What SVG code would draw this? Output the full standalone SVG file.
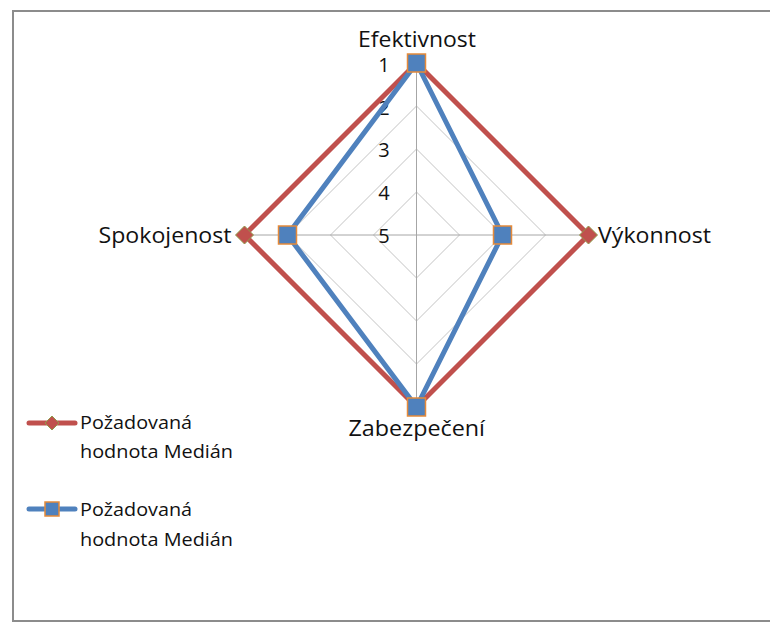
<svg xmlns="http://www.w3.org/2000/svg" width="770" height="622" viewBox="0 0 770 622">
  <style>
    .lbl { font-family: "Open Sans", "Liberation Sans", sans-serif; fill: #111111; }
    .axis-lbl { font-size: 22px; }
    .tick { font-size: 20px; text-anchor: middle; }
    .leg { font-size: 18.5px; }
    .ring { fill: none; stroke: #c4c4c4; stroke-width: 1; }
    .spoke { stroke: #a6a6a6; stroke-width: 1; }
    .red-line { fill: none; stroke: #c0504d; stroke-width: 5; stroke-linejoin: miter; }
    .blue-line { fill: none; stroke: #4f81bd; stroke-width: 5; stroke-linejoin: miter; }
    .diamond { fill: #c0504d; stroke: #8f9a4a; stroke-width: 1; }
    .square { fill: #4f81bd; stroke: #e58a3a; stroke-width: 1.5; }
  </style>
  <defs>
    <polygon id="dia" points="0,-9 9,0 0,9 -9,0"/>
    <rect id="sq" x="-9" y="-9" width="18" height="18"/>
  </defs>

  <!-- chart frame -->
  <rect x="13" y="11" width="770" height="610" fill="#ffffff" stroke="#8c8c8c" stroke-width="2"/>

  <!-- radar grid: centre (416.5,235), 43 px per step -->
  <g id="grid">
    <polygon class="ring" points="416.5,192 459.5,235 416.5,278 373.5,235"/>
    <polygon class="ring" points="416.5,149 502.5,235 416.5,321 330.5,235"/>
    <polygon class="ring" points="416.5,106 545.5,235 416.5,364 287.5,235"/>
    <polygon class="ring" points="416.5,63 588.5,235 416.5,407 244.5,235"/>
    <line class="spoke" x1="416.5" y1="63" x2="416.5" y2="407"/>
    <line class="spoke" x1="244.5" y1="235" x2="588.5" y2="235"/>
  </g>

  <!-- value scale (reversed: 1 outside, 5 at centre) -->
  <g id="scale" class="lbl tick">
    <text x="384" y="72">1</text>
    <text x="384" y="114.5">2</text>
    <text x="384" y="157">3</text>
    <text x="384" y="200">4</text>
    <text x="384" y="242.5">5</text>
  </g>

  <!-- axis captions -->
  <g id="axis-efektivnost"><text class="lbl axis-lbl" x="358" y="47" textLength="118" lengthAdjust="spacingAndGlyphs">Efektivnost</text></g>
  <g id="axis-vykonnost"><text class="lbl axis-lbl" x="598" y="243" textLength="113" lengthAdjust="spacingAndGlyphs">Výkonnost</text></g>
  <g id="axis-zabezpeceni"><text class="lbl axis-lbl" x="348.5" y="436" textLength="136.5" lengthAdjust="spacingAndGlyphs">Zabezpečení</text></g>
  <g id="axis-spokojenost"><text class="lbl axis-lbl" x="98.5" y="242.5" textLength="133" lengthAdjust="spacingAndGlyphs">Spokojenost</text></g>

  <!-- data series -->
  <g id="connectors">
    <polygon id="series-red" class="red-line" points="416.5,63 588.5,235 416.5,407 244.5,235"/>
    <polygon id="series-blue" class="blue-line" points="416.5,63 502.5,235 416.5,407 287.5,235"/>
  </g>

  <g id="red-points">
    <use href="#dia" class="diamond" x="416.5" y="63"/>
    <use href="#dia" class="diamond" x="588.5" y="235"/>
    <use href="#dia" class="diamond" x="416.5" y="407"/>
    <use href="#dia" class="diamond" x="244.5" y="235"/>
  </g>
  <g id="blue-points">
    <use href="#sq" class="square" x="416.5" y="63"/>
    <use href="#sq" class="square" x="502.5" y="235"/>
    <use href="#sq" class="square" x="416.5" y="407"/>
    <use href="#sq" class="square" x="287.5" y="235"/>
  </g>

  <!-- legend -->
  <g id="legend-red">
    <line x1="29" y1="423" x2="75" y2="423" stroke="#c0504d" stroke-width="5" stroke-linecap="round"/>
    <polygon points="52,416 59,423 52,430 45,423" class="diamond"/>
    <text class="lbl leg" x="80" y="428.5" textLength="112" lengthAdjust="spacingAndGlyphs">Požadovaná</text>
    <text class="lbl leg" x="80" y="457.5" textLength="153" lengthAdjust="spacingAndGlyphs">hodnota Medián</text>
  </g>
  <g id="legend-blue">
    <line x1="29" y1="509" x2="75" y2="509" stroke="#4f81bd" stroke-width="5" stroke-linecap="round"/>
    <rect x="45" y="502" width="14" height="14" class="square"/>
    <text class="lbl leg" x="80" y="515.5" textLength="112" lengthAdjust="spacingAndGlyphs">Požadovaná</text>
    <text class="lbl leg" x="80" y="545.5" textLength="153" lengthAdjust="spacingAndGlyphs">hodnota Medián</text>
  </g>
</svg>
